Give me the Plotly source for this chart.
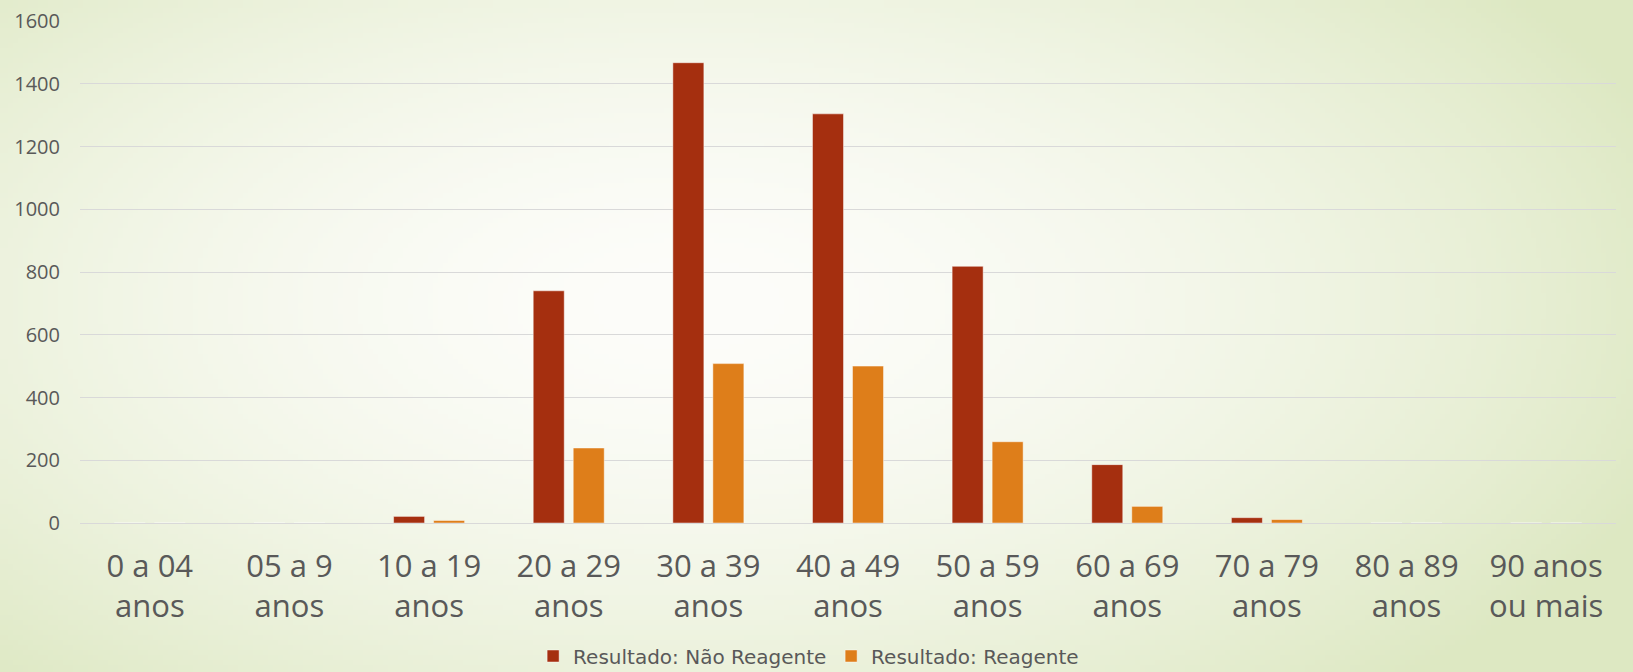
import base64, struct, zlib
import numpy as np
import plotly.graph_objects as go

categories = ["0 a 04<br>anos", "05 a 9<br>anos", "10 a 19<br>anos", "20 a 29<br>anos",
              "30 a 39<br>anos", "40 a 49<br>anos", "50 a 59<br>anos", "60 a 69<br>anos",
              "70 a 79<br>anos", "80 a 89<br>anos", "90 anos<br>ou mais"]
nao_reagente = [0, 0, 21, 740, 1467, 1304, 818, 186, 17, 0, 0]
reagente = [0, 0, 8, 239, 508, 500, 259, 53, 11, 0, 0]
y_ticks = [0, 200, 400, 600, 800, 1000, 1200, 1400, 1600]

W, H = 1633, 672
ML, MR, MT, MB = 80, 17, 21, 149

# background radial gradient image (decoration)
def gradient_png(w=326, h=134):
    yy, xx = np.mgrid[0:h, 0:w]
    cx, cy = 0.42 * w, 0.45 * h
    d = np.sqrt(((xx - cx) / (0.64 * w)) ** 2 + ((yy - cy) / (0.78 * h)) ** 2)
    t = np.clip(d, 0, 1) ** 1.7
    c0 = np.array([253, 253, 250], float)
    c1 = np.array([221, 232, 194], float)
    img = (c0[None, None, :] * (1 - t[..., None]) + c1[None, None, :] * t[..., None]).astype(np.uint8)
    raw = b"".join(b"\x00" + img[r].tobytes() for r in range(h))
    def chunk(tag, data):
        c = struct.pack(">I", len(data)) + tag + data
        return c + struct.pack(">I", zlib.crc32(tag + data) & 0xffffffff)
    png = b"\x89PNG\r\n\x1a\n" + chunk(b"IHDR", struct.pack(">IIBBBBB", w, h, 8, 2, 0, 0, 0)) \
        + chunk(b"IDAT", zlib.compress(raw, 9)) + chunk(b"IEND", b"")
    return "data:image/png;base64," + base64.b64encode(png).decode()

pw, ph = W - ML - MR, H - MT - MB

fig = go.Figure()
fig.add_trace(go.Bar(x=categories, y=nao_reagente, name="Resultado: Não Reagente",
                     marker=dict(color="#A52F0F", line=dict(color="rgba(255,255,255,0.45)", width=1))))
fig.add_trace(go.Bar(x=categories, y=reagente, name="Resultado: Reagente",
                     marker=dict(color="#DE7E1A", line=dict(color="rgba(255,255,255,0.45)", width=1))))

fig.update_layout(
    width=W, height=H,
    margin=dict(l=ML, r=MR, t=MT, b=MB, autoexpand=False),
    paper_bgcolor="#f6f8ef", plot_bgcolor="rgba(0,0,0,0)",
    font=dict(family="Open Sans", color="#595959"),
    barmode="group", bargap=0.427, bargroupgap=0.225,
    images=[dict(source=gradient_png(), xref="paper", yref="paper",
                 x=-ML / pw, y=1 + MT / ph, sizex=W / pw, sizey=H / ph,
                 xanchor="left", yanchor="top", sizing="stretch", layer="below")],
    xaxis=dict(tickfont=dict(size=31, color="#595959"), showgrid=False, ticks="",
               showline=False, zeroline=False, automargin=False, ticklabelstandoff=22),
    yaxis=dict(range=[0, 1600], tickvals=y_ticks, tickfont=dict(size=20, color="#595959"),
               showgrid=True, gridcolor="#D9D9D9", gridwidth=1.3, zeroline=True,
               zerolinecolor="#D9D9D9", zerolinewidth=1.3, ticks="", automargin=False,
               ticklabelstandoff=19, showline=False),
    legend=dict(orientation="h", x=0.295, xanchor="left", y=-(656 - 523) / ph, yanchor="middle",
                font=dict(size=20, color="#595959", family="DejaVu Sans"), bgcolor="rgba(0,0,0,0)",
                itemwidth=30, traceorder="normal", entrywidth=253, entrywidthmode="pixels"),
    showlegend=True,
)

fig.write_html("out.html", config={"displayModeBar": False},
               post_script="document.body.style.margin='0';")
